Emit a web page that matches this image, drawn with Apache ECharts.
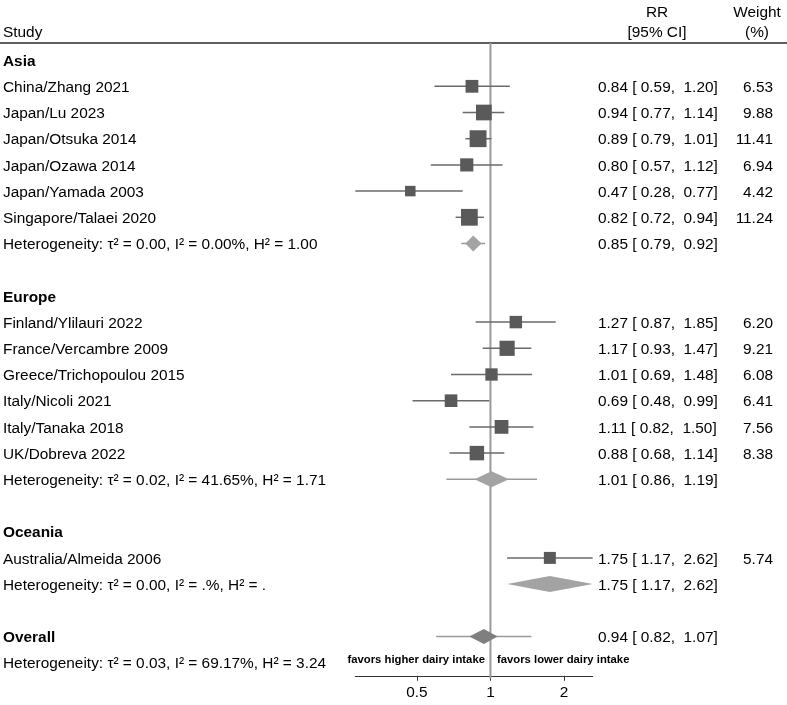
<!DOCTYPE html>
<html><head><meta charset="utf-8">
<script src="https://cdn.jsdelivr.net/npm/echarts@6/dist/echarts.min.js"></script>
<style>html,body{margin:0;padding:0;background:#fff}#c{width:787px;height:705px}</style>
</head><body><div id="c"></div>
<script>
// ---- data ----
const rowLabels = [
  'Asia',
  'China/Zhang 2021', 'Japan/Lu 2023', 'Japan/Otsuka 2014', 'Japan/Ozawa 2014', 'Japan/Yamada 2003', 'Singapore/Talaei 2020',
  'Heterogeneity: τ² = 0.00, I² = 0.00%, H² = 1.00',
  '',
  'Europe',
  'Finland/Ylilauri 2022', 'France/Vercambre 2009', 'Greece/Trichopoulou 2015', 'Italy/Nicoli 2021', 'Italy/Tanaka 2018', 'UK/Dobreva 2022',
  'Heterogeneity: τ² = 0.02, I² = 41.65%, H² = 1.71',
  '',
  'Oceania',
  'Australia/Almeida 2006',
  'Heterogeneity: τ² = 0.00, I² = .%, H² = .',
  '',
  'Overall',
  'Heterogeneity: τ² = 0.03, I² = 69.17%, H² = 3.24'
];
const rowKind = [
  'group', 'study','study','study','study','study','study', 'sub', 'blank',
  'group', 'study','study','study','study','study','study', 'sub', 'blank',
  'group', 'study', 'sub', 'blank',
  'overall', 'het'
];
const rr     = [null, 0.84,0.94,0.89,0.80,0.47,0.82, 0.85, null, null, 1.27,1.17,1.01,0.69,1.11,0.88, 1.01, null, null, 1.75, 1.75, null, 0.94, null];
const ciLow  = [null, 0.59,0.77,0.79,0.57,0.28,0.72, 0.79, null, null, 0.87,0.93,0.69,0.48,0.82,0.68, 0.86, null, null, 1.17, 1.17, null, 0.82, null];
const ciHigh = [null, 1.20,1.14,1.01,1.12,0.77,0.94, 0.92, null, null, 1.85,1.47,1.48,0.99,1.50,1.14, 1.19, null, null, 2.62, 2.62, null, 1.07, null];
const weight = [null, 6.53,9.88,11.41,6.94,4.42,11.24, null, null, null, 6.20,9.21,6.08,6.41,7.56,8.38, null, null, null, 5.74, null, null, null, null];
// prediction-interval whiskers on the pooled diamonds
const piLow  = [null, null,null,null,null,null,null, 0.76, null, null, null,null,null,null,null,null, 0.66, null, null, null, null, null, 0.60, null];
const piHigh = [null, null,null,null,null,null,null, 0.95, null, null, null,null,null,null,null,null, 1.55, null, null, null, null, null, 1.47, null];
const xTicks = [0.5, 1, 2];
const favorsLeft = 'favors higher dairy intake';
const favorsRight = 'favors lower dairy intake';

// ---- build ----
const FONT = "'Liberation Sans', Arial, Helvetica, sans-serif";
const FS = 15.4;
const N = rowLabels.length;
const ciData = [], sqData = [], diaData = [], piData = [];
for (let i = 0; i < N; i++) {
  if (rr[i] == null) continue;
  if (rowKind[i] === 'study') {
    ciData.push([ciLow[i], ciHigh[i], i]);
    sqData.push([rr[i], i, weight[i]]);
  } else {
    const ov = rowKind[i] === 'overall' ? 1 : 0;
    diaData.push([rr[i], ciLow[i], ciHigh[i], i, ov]);
    if (piLow[i] != null) piData.push([piLow[i], piHigh[i], i, ov]);
  }
}
const xMin = Math.min(...ciLow.filter(v => v != null));
const xMax = Math.max(...ciHigh.filter(v => v != null));
const pad5 = v => v.toFixed(2).padStart(5, ' ');
function rrText(i) {
  if (rr[i] == null) return '';
  return rr[i].toFixed(2) + ' [' + pad5(ciLow[i]) + ', ' + pad5(ciHigh[i]) + ']';
}

const chart = echarts.init(document.getElementById('c'));
const txt = (x, y, text, align) => ({ type: 'text', x, y,
  style: { text, align, verticalAlign: 'middle', fontSize: FS, fontFamily: FONT, fill: '#000' } });
const option = {
  animation: false,
  backgroundColor: '#fff',
  textStyle: { fontFamily: FONT },
  grid: { left: 355.3, right: 194.3, top: 47, bottom: 29.2, containLabel: false },
  xAxis: {
    type: 'log', logBase: 2, min: xMin, max: xMax,
    axisLine: { show: true, lineStyle: { color: '#333', width: 1 } },
    axisTick: { show: true, length: 5, lineStyle: { color: '#333' }, customValues: xTicks },
    axisLabel: { customValues: xTicks, margin: 9, fontSize: FS, color: '#000', fontFamily: FONT,
      formatter: v => String(v) },
    splitLine: { show: false }, minorTick: { show: false }
  },
  yAxis: [
    {
      type: 'category', inverse: true, data: rowLabels, position: 'left',
      axisLine: { show: false }, axisTick: { show: false }, splitLine: { show: false },
      axisLabel: {
        interval: 0, align: 'left', margin: 352.3, fontSize: FS, color: '#000', fontFamily: FONT,
        padding: [3, 0, 0, 0],
        formatter: (v, i) => (rowKind[i] === 'group' || rowKind[i] === 'overall') ? '{b|' + v + '}' : v,
        rich: { b: { fontWeight: 'bold', fontSize: FS, color: '#000', fontFamily: FONT } }
      }
    },
    {
      type: 'category', inverse: true, data: rowLabels, position: 'right',
      axisLine: { show: false }, axisTick: { show: false }, splitLine: { show: false },
      axisLabel: {
        interval: 0, align: 'left', margin: 5.3, fontSize: FS, color: '#000', fontFamily: FONT,
        padding: [3, 0, 0, 0],
        formatter: (v, i) => {
          if (rr[i] == null) return '';
          let s = '{a|' + rrText(i) + '}';
          if (weight[i] != null) s += '{w|' + weight[i].toFixed(2) + '}';
          return s;
        },
        rich: {
          a: { width: 137, align: 'left', fontSize: FS, color: '#000', fontFamily: FONT },
          w: { width: 38, align: 'right', fontSize: FS, color: '#000', fontFamily: FONT }
        }
      }
    }
  ],
  graphic: [
    { type: 'line', shape: { x1: 0, y1: 43, x2: 787, y2: 43 }, style: { stroke: '#2a2a2a', lineWidth: 1.6 } },
    txt(3, 32.5, 'Study', 'left'),
    txt(657, 12.5, 'RR', 'center'),
    txt(657, 32.5, '[95% CI]', 'center'),
    txt(757, 12.5, 'Weight', 'center'),
    txt(757, 32.5, '(%)', 'center')
  ],
  series: [
    { // reference line at RR = 1
      type: 'custom', xAxisIndex: 0, yAxisIndex: 0, silent: true,
      data: [[1, 0]], encode: { x: 0, y: 1 },
      renderItem: (params, api) => {
        const x = api.coord([api.value(0), 0])[0];
        const cs = params.coordSys;
        return { type: 'line', shape: { x1: x, y1: cs.y - 4, x2: x, y2: cs.y + cs.height + 3 },
          style: { stroke: '#9a9a9a', lineWidth: 2 } };
      }
    },
    { // study CIs
      type: 'custom', silent: true, data: ciData, encode: { x: [0, 1], y: 2 },
      renderItem: (params, api) => {
        const p1 = api.coord([api.value(0), api.value(2)]);
        const p2 = api.coord([api.value(1), api.value(2)]);
        return { type: 'line', shape: { x1: p1[0], y1: p1[1], x2: p2[0], y2: p2[1] },
          style: { stroke: '#6a6a6a', lineWidth: 1.5 } };
      }
    },
    { // study point estimates
      type: 'scatter', silent: true, data: sqData, symbol: 'rect',
      symbolSize: v => 5 * Math.sqrt(v[2]),
      itemStyle: { color: '#5a5a5a', opacity: 1 }
    },
    { // prediction intervals on pooled estimates
      type: 'custom', silent: true, data: piData, encode: { x: [0, 1], y: 2 },
      renderItem: (params, api) => {
        const p1 = api.coord([api.value(0), api.value(2)]);
        const p2 = api.coord([api.value(1), api.value(2)]);
        return { type: 'line', shape: { x1: p1[0], y1: p1[1], x2: p2[0], y2: p2[1] },
          style: { stroke: '#999', lineWidth: 1.5 } };
      }
    },
    { // pooled diamonds
      type: 'custom', silent: true, data: diaData, encode: { x: [0, 1, 2], y: 3 },
      renderItem: (params, api) => {
        const r = api.value(3);
        const c = api.coord([api.value(0), r]);
        const l = api.coord([api.value(1), r]);
        const h = api.coord([api.value(2), r]);
        const ov = api.value(4) === 1;
        const hh = ov ? 7.5 : 8;
        return { type: 'polygon',
          shape: { points: [[l[0], c[1]], [c[0], c[1] - hh], [h[0], c[1]], [c[0], c[1] + hh]] },
          style: { fill: ov ? '#7f7f7f' : '#a3a3a3' } };
      }
    },
    { // favours annotations under the reference line
      type: 'custom', silent: true, data: [[1, N - 1]], encode: { x: 0, y: 1 },
      renderItem: (params, api) => {
        const p = api.coord([api.value(0), api.value(1)]);
        return { type: 'group', children: [
          { type: 'text', x: p[0] - 5.5, y: p[1] - 3,
            style: { text: favorsLeft, align: 'right', verticalAlign: 'middle', fontSize: 11.3, fontWeight: 'bold', fontFamily: FONT, fill: '#000' } },
          { type: 'text', x: p[0] + 6.5, y: p[1] - 3,
            style: { text: favorsRight, align: 'left', verticalAlign: 'middle', fontSize: 11.3, fontWeight: 'bold', fontFamily: FONT, fill: '#000' } }
        ] };
      }
    }
  ]
};
chart.setOption(option);
</script>
</body></html>
